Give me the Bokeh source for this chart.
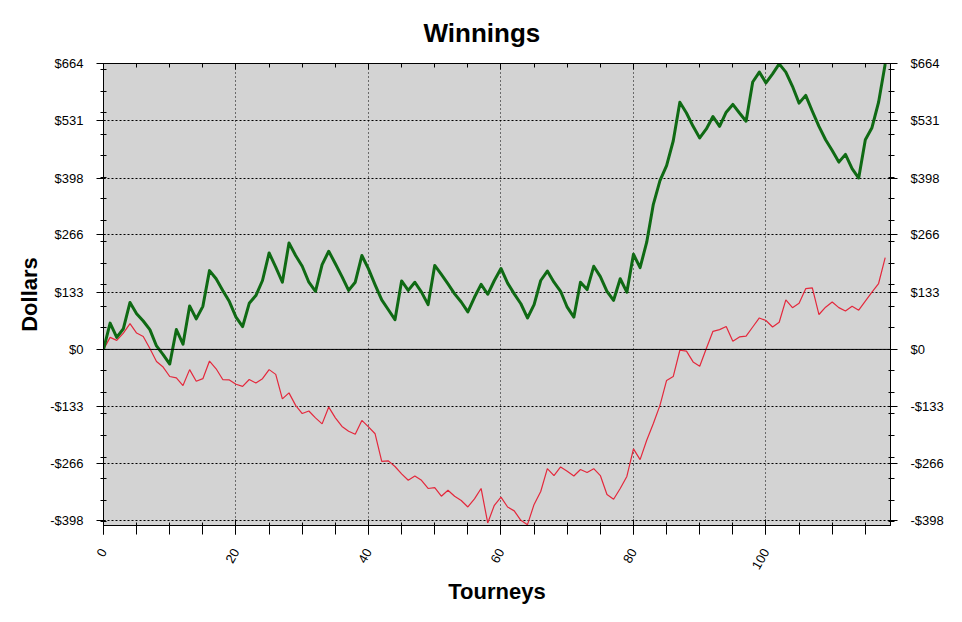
from bokeh.plotting import figure
from bokeh.models import LinearAxis, FixedTicker, Span, Range1d
from bokeh.embed import file_html
from bokeh.resources import INLINE

tourneys = list(range(119))
green = [0, 61, 28, 48, 109, 83, 66, 46, 8, -12,
         -34, 46, 12, 101, 71, 100, 183, 164, 137, 111,
         75, 53, 107, 125, 160, 224, 191, 156, 247, 218,
         193, 156, 135, 197, 228, 199, 169, 137, 156, 218,
         187, 150, 115, 92, 69, 159, 137, 156, 133, 104,
         195, 174, 152, 129, 110, 87, 121, 151, 128, 160,
         188, 154, 129, 106, 73, 104, 160, 182, 156, 135,
         98, 75, 156, 139, 193, 169, 135, 114, 164, 133,
         221, 190, 249, 337, 392, 427, 484, 574, 549, 518,
         491, 512, 541, 518, 551, 569, 549, 530, 621, 644,
         619, 640, 663, 644, 611, 572, 590, 553, 518, 487,
         462, 435, 453, 420, 398, 487, 515, 574, 663]
red = [0, 28, 21, 38, 60, 38, 30, 2, -28, -41,
       -63, -66, -84, -47, -74, -68, -27, -45, -70, -71,
       -81, -86, -70, -78, -68, -47, -58, -115, -101, -130,
       -149, -143, -159, -173, -134, -159, -179, -190, -197, -165,
       -180, -196, -260, -259, -272, -289, -304, -294, -304, -323,
       -321, -341, -327, -341, -351, -366, -347, -323, -403, -362,
       -343, -366, -375, -397, -407, -360, -330, -277, -293, -273,
       -283, -294, -279, -286, -277, -293, -337, -348, -323, -295,
       -231, -256, -211, -172, -130, -72, -63, -2, -4, -29,
       -39, 2, 42, 46, 53, 19, 29, 31, 52, 73,
       67, 52, 63, 115, 97, 107, 141, 143, 81, 98,
       110, 97, 89, 100, 91, 112, 133, 153, 213]

y_ticks = [-398, -266, -133, 0, 133, 266, 398, 531, 664]
y_tick_labels = ["-$398", "-$266", "-$133", "$0", "$133", "$266", "$398", "$531", "$664"]
y_minor = list(range(-400, 701, 50))
x_ticks = [0, 20, 40, 60, 80, 100]
x_minor = list(range(0, 120, 5))

FONT = "Liberation Sans"

p = figure(width=946, height=606, output_backend="svg", toolbar_location=None,
           x_range=Range1d(0, 118.8), y_range=Range1d(-409, 664),
           title="Winnings", x_axis_label="Tourneys", y_axis_label="Dollars",
           min_border_left=103, min_border_right=53, min_border_top=63, min_border_bottom=81,
           background_fill_color="#d3d3d3", border_fill_color="white")
p.outline_line_color = "black"

p.title.align = "left"
p.title.offset = 320
p.title.text_font = FONT
p.title.text_font_size = "26px"
p.title.text_font_style = "bold"
p.title.text_color = "black"
p.title.standoff = 31

xt = FixedTicker(ticks=x_ticks, minor_ticks=x_minor)
yt = FixedTicker(ticks=y_ticks, minor_ticks=y_minor)
overrides = {v: s for v, s in zip(y_ticks, y_tick_labels)}


def style(ax):
    ax.axis_line_color = "black"
    ax.major_tick_line_color = "black"
    ax.minor_tick_line_color = "black"
    ax.major_label_text_font = FONT
    ax.major_label_text_font_size = "13px"
    ax.major_label_text_color = "black"
    ax.axis_label_text_font = FONT
    ax.axis_label_text_font_size = "22px"
    ax.axis_label_text_font_style = "bold"
    ax.axis_label_text_color = "black"


xa = p.xaxis[0]
xa.ticker = xt
style(xa)
xa.major_tick_in = 6
xa.major_tick_out = 9
xa.minor_tick_in = 3
xa.minor_tick_out = 9
xa.major_label_orientation = 1.05
xa.major_label_standoff = 15
xa.axis_label_standoff = 3

ya = p.yaxis[0]
ya.ticker = yt
ya.major_label_overrides = overrides
style(ya)
ya.major_tick_in = 2
ya.major_tick_out = 7
ya.minor_tick_in = 3
ya.minor_tick_out = 3
ya.major_label_standoff = 13
ya.axis_label_standoff = 5

ra = LinearAxis(ticker=yt, major_label_overrides=overrides)
style(ra)
ra.major_tick_in = 2
ra.major_tick_out = 7
ra.minor_tick_in = 2
ra.minor_tick_out = 4
ra.major_label_standoff = 13
p.add_layout(ra, "right")

ta = LinearAxis(ticker=xt)
style(ta)
ta.major_label_text_font_size = "1px"
ta.major_label_text_color = None
ta.major_tick_in = 6
ta.major_tick_out = 0
ta.minor_tick_in = 4
ta.minor_tick_out = 0
ta.major_label_standoff = 0
p.add_layout(ta, "above")

p.xgrid.ticker = xt
p.ygrid.ticker = yt
p.xgrid.grid_line_color = "black"
p.xgrid.grid_line_dash = "1 3"
p.ygrid.grid_line_color = "black"
p.ygrid.grid_line_dash = "2 2"

p.add_layout(Span(location=0, dimension="width", line_color="black", line_width=1))

p.line(tourneys, red, line_color="#e4283c", line_width=1.2)
p.line(tourneys, green, line_color="#0f6a14", line_width=3, line_join="round")

open("out.html", "w").write(file_html(p, INLINE))
